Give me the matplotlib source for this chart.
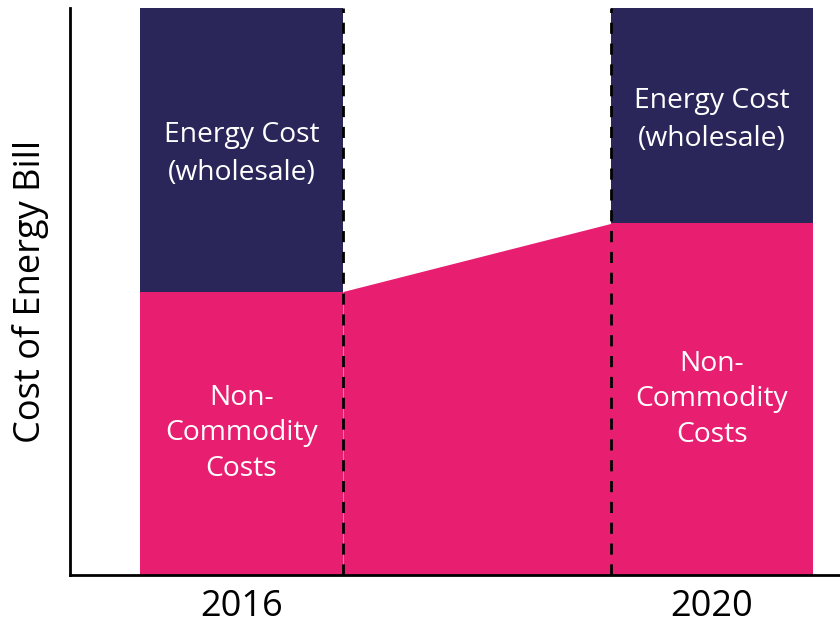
import numpy as np
import matplotlib.pyplot as plt

# valores (escala arbitraria 0-10)
years = ['2016', '2020']
non_commodity = [5.0, 6.2]
energy_cost = [5.0, 3.8]

pink = '#E81E71'
navy = '#2A2659'

plt.rcParams['font.family'] = ['Open Sans', 'DejaVu Sans']

fig = plt.figure(figsize=(8.4, 6.27), dpi=100)
ax = fig.add_axes([70 / 840, 52 / 627, 770 / 840, 567 / 627])

x = np.arange(len(years))
w = 0.431

ax.bar(x, non_commodity, width=w, color=pink, zorder=2)
ax.bar(x, energy_cost, width=w, bottom=non_commodity, color=navy, zorder=2)

# zona rosa entre las dos barras
xs = [x[0] + w / 2, x[1] - w / 2]
ax.fill_between(xs, 0, non_commodity, color=pink, lw=0, zorder=1)

for xv in xs:
    ax.axvline(xv, color='black', lw=2, linestyle=(0, (4, 3.5)), zorder=3)

for i in range(len(years)):
    nc = non_commodity[i]
    ec = energy_cost[i]
    ax.text(x[i], nc + ec / 2 - 0.08, 'Energy Cost\n(wholesale)', color='white',
            fontsize=20.3, ha='center', va='center', linespacing=1.47, zorder=4)
    ax.text(x[i], nc / 2, 'Non-\nCommodity\nCosts', color='white',
            fontsize=20.3, ha='center', va='center', linespacing=1.35, zorder=4)

ax.set_xlim(-0.3645, 1.272)
ax.set_ylim(0, 10)
ax.set_xticks(x)
ax.set_xticklabels(years, fontsize=26)
ax.tick_params(axis='x', length=0, pad=10)
ax.set_yticks([])
ax.set_ylabel('Cost of Energy Bill', fontsize=26, labelpad=15)

for s in ['top', 'right']:
    ax.spines[s].set_visible(False)
for s in ['left', 'bottom']:
    ax.spines[s].set_linewidth(2)
    ax.spines[s].set_color('black')

fig.savefig('out.png', dpi=100)
